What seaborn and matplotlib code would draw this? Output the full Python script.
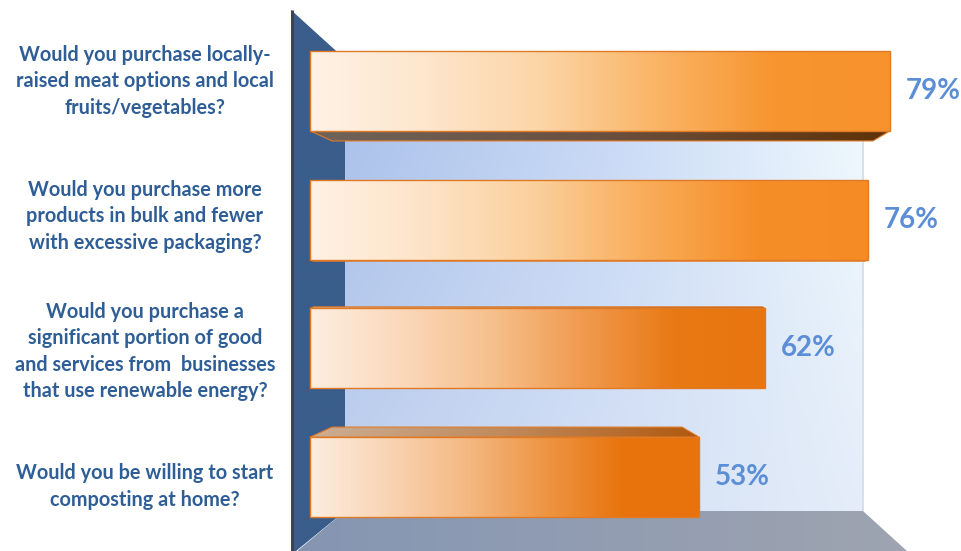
import numpy as np
import pandas as pd
import matplotlib
matplotlib.use("Agg")
import matplotlib.pyplot as plt
import matplotlib.transforms as mtransforms
from matplotlib.colors import LinearSegmentedColormap
from matplotlib.patches import Polygon, Rectangle
import seaborn as sns

# ---- data -------------------------------------------------------------
questions = [
    "Would you purchase locally-\nraised meat options and local\nfruits/vegetables?",
    "Would you purchase more\nproducts in bulk and fewer\nwith excessive packaging?",
    "Would you purchase a\nsignificant portion of good\nand services from  businesses\nthat use renewable energy?",
    "Would you be willing to start\ncomposting at home?",
]
yes_share = [79, 76, 62, 53]
value_labels = [f"{v}%" for v in yes_share]

df = pd.DataFrame({"question": questions, "share": yes_share})

# ---- figure -----------------------------------------------------------
W, H = 961, 551
sns.set_theme(style="white")
plt.rcParams["font.family"] = ["Lato", "DejaVu Sans"]

fig = plt.figure(figsize=(W / 100, H / 100), dpi=100)
ax = fig.add_axes([0, 0, 1, 1])

# pixel frame with origin at the top-left corner (used for the 3-D box)
px = mtransforms.Affine2D().scale(1 / W, -1 / H).translate(0, 1) + fig.transFigure

# value axis: zero at 310 px, 7.342 px per percent; category pitch 128.67 px
X0, XS = 310, 7.342
Y0, YS = 91, 128.67
XLIM = (-X0 / XS, (W - X0) / XS)
YLIM = ((H - Y0) / YS, -Y0 / YS)


def gradient_image(stops, n=256, vertical=None):
    cmap = LinearSegmentedColormap.from_list("g", stops)
    row = cmap(np.linspace(0, 1, n))[None, :, :3]
    if vertical is None:
        return row
    cmap2 = LinearSegmentedColormap.from_list("g2", vertical)
    row2 = cmap2(np.linspace(0, 1, n))[None, :, :3]
    t = np.linspace(0, 1, 64)[:, None, None]
    return row * (1 - t) + row2 * t


def fill_poly(points, stops, transform, zorder, vertical=None, edge=None, lw=0.0):
    poly = Polygon(points, closed=True, transform=transform, facecolor="none",
                   edgecolor=edge if edge else "none", linewidth=lw, zorder=zorder + 0.01)
    ax.add_patch(poly)
    pts = np.asarray(points)
    x_lo, x_hi = pts[:, 0].min(), pts[:, 0].max()
    y_lo, y_hi = pts[:, 1].min(), pts[:, 1].max()
    img = gradient_image(stops, vertical=vertical)
    im = ax.imshow(img, extent=(x_lo, x_hi, y_hi, y_lo), origin="upper", aspect="auto",
                   transform=transform, interpolation="bilinear", zorder=zorder)
    im.set_clip_path(poly)
    return poly


# ---- bars ---------------------------------------------------------------
sns.barplot(data=df, x="share", y="question", orient="h", width=0.62,
            color="#f7952f", ax=ax, zorder=3)
bars = [p for p in ax.patches if isinstance(p, Rectangle)]

# ---- 3-D box: back wall, side wall, floor -----------------------------
fill_poly([(345, 57), (863, 57), (863, 511), (345, 511)],
          ["#a7bfea", "#c6d8f6", "#f0fafe"], px, 0.5,
          vertical=["#c2d2ef", "#d4e0f5", "#e4edf9"])
ax.plot([863, 863], [57, 511], transform=px, color="#d3dbe4", lw=1.2, zorder=0.6)

fill_poly([(291, 10), (345, 59), (345, 511), (296, 551), (291, 551)],
          ["#3a5d8b", "#3a5e8c"], px, 0.7)
ax.plot([291.5, 291.5], [10, 551], transform=px, color="#3f4451", lw=2.2,
        zorder=0.8, solid_capstyle="butt")

fill_poly([(345, 511), (863, 511), (908, 552), (296, 552)],
          ["#8596b2", "#929db2", "#9ea4b0"], px, 0.9)

face_stops = [
    ["#fff2e6", "#fde6cc", "#fcd5a6", "#fab465", "#f7952f", "#f7922c"],
    ["#fff1e4", "#fde4c8", "#fbd09d", "#f9ad5a", "#f68e28", "#f58b25"],
    ["#fdeee1", "#fad9bb", "#f6c08c", "#f09a4e", "#e97914", "#e8750f"],
    ["#fdede0", "#f9d4b4", "#f4b983", "#ee9645", "#e8740e", "#e8720c"],
]

EYE = 1.5        # category position level with the eye
K = 0.0656       # perspective depth per unit distance from the eye level

for i, bar in enumerate(bars):
    x, y, w, h = bar.get_x(), bar.get_y(), bar.get_width(), bar.get_height()
    bar.set_facecolor("none")
    bar.set_edgecolor("#e07a26")
    bar.set_linewidth(1.0)
    bar.set_zorder(3.2)
    im = ax.imshow(gradient_image(face_stops[i]), extent=(x, x + w, y + h, y),
                   aspect="auto", interpolation="bilinear", zorder=3.0)
    im.set_clip_path(bar)

    # bevel: underside for bars above the eye, top side for bars below it
    top, bottom = y, y + h
    if bottom < EYE:
        d = K * (EYE - bottom)
        dpx = d * YS
        pts = [(x, bottom), (x + w, bottom),
               (x + w - 1.7 * dpx / XS, bottom + d), (x + 2.2 * dpx / XS, bottom + d)]
        stops = ["#6f635b", "#6a5040", "#5f3208"]
    else:
        d = K * (top - EYE)
        dpx = d * YS
        pts = [(x, top), (x + w, top),
               (x + w - 1.7 * dpx / XS, top - d), (x + 2.2 * dpx / XS, top - d)]
        stops = ["#cbae95", "#c08a5c", "#b0580e"]
    fill_poly(pts, stops, ax.transData, 2.8, edge="#e07a26", lw=0.8)

# ---- labels -------------------------------------------------------------
for i, (v, lab) in enumerate(zip(yes_share, value_labels)):
    ax.annotate(lab, xy=(v, i), xytext=(11.5, 0), textcoords="offset points",
                ha="left", va="center", fontsize=20, fontweight="bold",
                color="#5b8ed6", zorder=5)

SPREAD = 1.05
for i, q in enumerate(questions):
    y_lab = EYE + (i - EYE) * SPREAD
    ax.annotate(q, xy=(0, y_lab), xytext=(-165 * 0.72, 0), textcoords="offset points",
                ha="center", va="center", multialignment="center",
                fontsize=14.3, fontweight="bold", color="#2f5e96",
                linespacing=1.4, zorder=5)

ax.set_xlim(*XLIM)
ax.set_ylim(*YLIM)
ax.set_axis_off()

fig.savefig("out.png", dpi=100, facecolor="white")
